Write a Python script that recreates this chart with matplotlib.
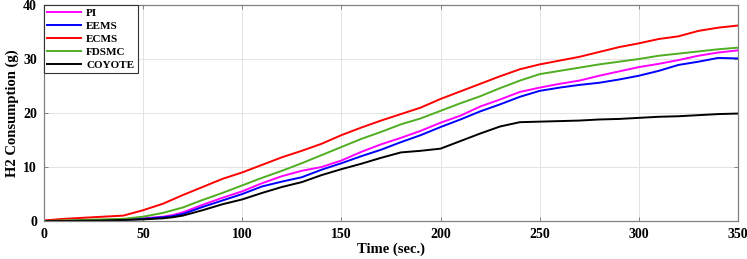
import numpy as np
import matplotlib
matplotlib.use("Agg")
import matplotlib.pyplot as plt

# === data ===
time_s = [0, 10, 20, 30, 40, 50, 60, 65, 70, 80, 90, 100, 110, 120, 130, 140, 150,
          160, 170, 180, 190, 200, 210, 220, 230, 240, 250, 260, 270, 280, 290,
          300, 310, 320, 330, 340, 350]

pi_h2 = [0, 0.05, 0.1, 0.2, 0.3, 0.5, 0.8, 1.1, 1.6, 3.0, 4.3, 5.5, 7.0, 8.3, 9.3,
         10.0, 11.2, 12.8, 14.2, 15.4, 16.7, 18.2, 19.5, 21.2, 22.5, 23.9, 24.7,
         25.4, 26.0, 26.9, 27.7, 28.5, 29.1, 29.8, 30.6, 31.2, 31.6]
eems_h2 = [0, 0, 0.05, 0.1, 0.2, 0.4, 0.7, 0.9, 1.3, 2.6, 3.8, 5.0, 6.4, 7.3, 8.1,
           9.5, 10.7, 12.0, 13.2, 14.6, 15.9, 17.4, 18.8, 20.3, 21.6, 23.0, 24.1,
           24.7, 25.2, 25.6, 26.2, 26.9, 27.8, 28.9, 29.5, 30.2, 30.1]
ecms_h2 = [0.1, 0.4, 0.6, 0.8, 1.0, 2.0, 3.2, 4.0, 4.8, 6.3, 7.8, 9.0, 10.4, 11.8,
           13.0, 14.3, 15.9, 17.3, 18.6, 19.8, 21.0, 22.6, 24.0, 25.4, 26.8, 28.1,
           29.0, 29.7, 30.4, 31.3, 32.2, 32.9, 33.7, 34.2, 35.2, 35.8, 36.2]
fdsmc_h2 = [0, 0.1, 0.2, 0.3, 0.4, 0.8, 1.5, 2.0, 2.5, 3.9, 5.2, 6.6, 8.0, 9.3,
            10.7, 12.2, 13.7, 15.2, 16.5, 17.9, 19.0, 20.4, 21.8, 23.1, 24.6, 26.0,
            27.2, 27.8, 28.4, 29.0, 29.5, 30.0, 30.6, 31.0, 31.4, 31.8, 32.1]
coyote_h2 = [0, 0, 0.05, 0.1, 0.2, 0.3, 0.5, 0.7, 1.0, 2.0, 3.1, 4.0, 5.2, 6.3, 7.2,
             8.5, 9.6, 10.6, 11.7, 12.7, 13.0, 13.4, 14.8, 16.2, 17.5, 18.3, 18.4,
             18.5, 18.6, 18.8, 18.9, 19.1, 19.3, 19.4, 19.6, 19.8, 19.9]

labels = ["PI", "EEMS", "ECMS", "FDSMC", "COYOTE"]
series = [pi_h2, eems_h2, ecms_h2, fdsmc_h2, coyote_h2]
colors = ["#ff00ff", "#0000ff", "#ff0000", "#4fae22", "#000000"]

xticks = [0, 50, 100, 150, 200, 250, 300, 350]
yticks = [0, 10, 20, 30, 40]

# === style ===
plt.rcParams["font.family"] = ["Liberation Serif", "DejaVu Serif"]
plt.rcParams["font.weight"] = "bold"

fig = plt.figure(figsize=(7.47, 2.59), dpi=100)
ax = fig.add_axes([0.0589, 0.1467, 0.929, 0.834])

for y, lab, c in zip(series, labels, colors):
    ax.plot(time_s, y, color=c, lw=1.4, label=lab)

ax.set_xlim(0, 350)
ax.set_ylim(0, 40)
ax.set_xticks(xticks)
ax.set_yticks(yticks)
ax.grid(True, color="#e3e3e3", lw=0.7)
ax.set_axisbelow(True)
ax.tick_params(direction="in", length=3, width=0.7, color="#808080",
               top=True, right=True, labelsize=10, pad=5)
for lbl in ax.get_xticklabels() + ax.get_yticklabels():
    lbl.set_fontweight("bold")
for sp in ax.spines.values():
    sp.set_color("#808080")
    sp.set_linewidth(0.9)

ax.set_xlabel("Time (sec.)", fontsize=10.5, fontweight="bold", labelpad=1)
ax.set_ylabel("H2 Consumption (g)", fontsize=10.5, fontweight="bold", labelpad=3)

leg = ax.legend(loc="upper left", frameon=True, fancybox=False,
                borderpad=0.3, labelspacing=0.28, handlelength=3.0,
                handletextpad=0.5, borderaxespad=0.0, prop={"weight": "bold", "size": 8})
leg.get_frame().set_edgecolor("#333333")
leg.get_frame().set_linewidth(0.8)
leg.get_frame().set_alpha(1)

fig.savefig("out.png", dpi=100)
